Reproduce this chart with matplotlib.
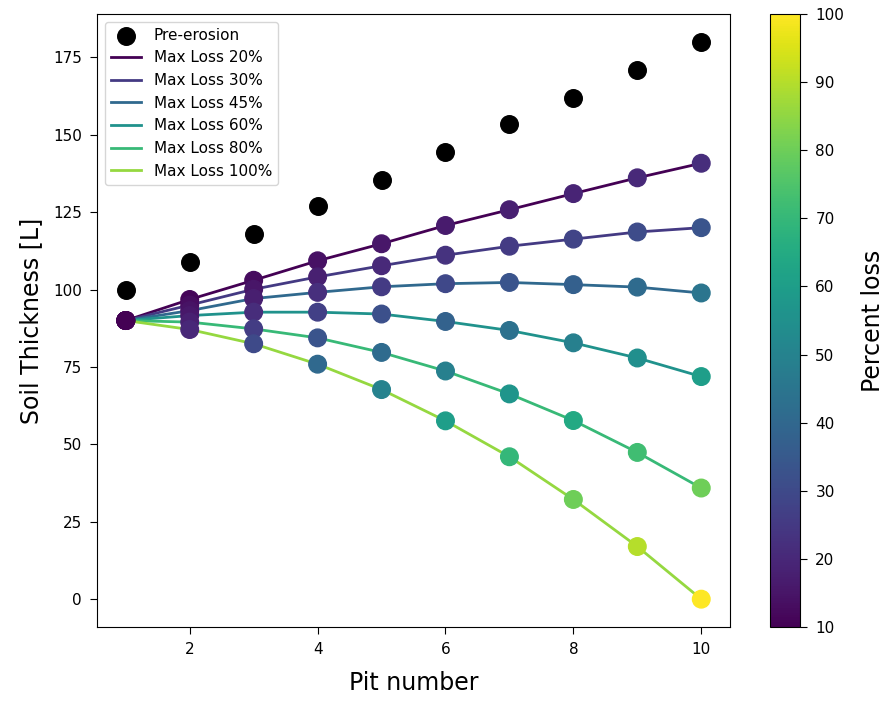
import numpy as np
import matplotlib
matplotlib.use('Agg')
import matplotlib.pyplot as plt

# ── data ──────────────────────────────────────
pits = [1, 2, 3, 4, 5, 6, 7, 8, 9, 10]
pre_erosion = [100, 109, 118, 127, 135.5, 144.5, 153.5, 162, 171, 180]

max_loss = [20, 30, 45, 60, 80, 100]
thickness = {
    20:  [90, 96.8, 103, 109.3, 114.8, 120.7, 125.8, 131, 136.1, 140.8],
    30:  [90, 95.0, 100.1, 104.1, 107.7, 111.1, 114, 116.3, 118.6, 120],
    45:  [90, 93.2, 97.1, 99.1, 100.9, 101.9, 102.3, 101.6, 100.8, 98.9],
    60:  [90, 91.6, 92.7, 92.7, 92.1, 89.7, 86.8, 82.8, 77.9, 71.9],
    80:  [90, 89.5, 87.3, 84.4, 79.7, 73.7, 66.3, 57.7, 47.4, 35.9],
    100: [90, 87.1, 82.5, 75.9, 67.7, 57.6, 46.0, 32.2, 17.0, 0],
}

cmap = plt.cm.viridis
line_colors = cmap(np.linspace(0, 0.84, len(max_loss)))

fig = plt.figure(figsize=(8.85, 7.02), dpi=100)
ax = fig.add_axes([0.1096, 0.1068, 0.7153, 0.8732])
cax = fig.add_axes([0.870, 0.1068, 0.034, 0.8732])

ax.scatter(pits, pre_erosion, s=160, color='black', zorder=3, label='Pre-erosion')

pre = np.array(pre_erosion)
for p, col in zip(max_loss, line_colors):
    y = np.array(thickness[p])
    ax.plot(pits, y, color=col, lw=2, zorder=2, label=f'Max Loss {p}%')
    loss = (1 - y / pre) * 100
    sc = ax.scatter(pits, y, c=loss, cmap=cmap, vmin=10, vmax=100,
                    s=160, zorder=4)

ax.set_xticks([2, 4, 6, 8, 10])
ax.set_yticks([0, 25, 50, 75, 100, 125, 150, 175])
ax.tick_params(labelsize=11, length=5, pad=6)
ax.set_xlabel('Pit number', fontsize=17, labelpad=10)
ax.set_ylabel('Soil Thickness [L]', fontsize=17, labelpad=7)
ax.legend(loc='upper left', fontsize=11, borderaxespad=0.5)

cb = fig.colorbar(sc, cax=cax)
cb.set_ticks([10, 20, 30, 40, 50, 60, 70, 80, 90, 100])
cb.ax.tick_params(labelsize=11, length=5, pad=6)
cb.set_label('Percent loss', fontsize=17, labelpad=12)

fig.savefig('out.png', dpi=100)
